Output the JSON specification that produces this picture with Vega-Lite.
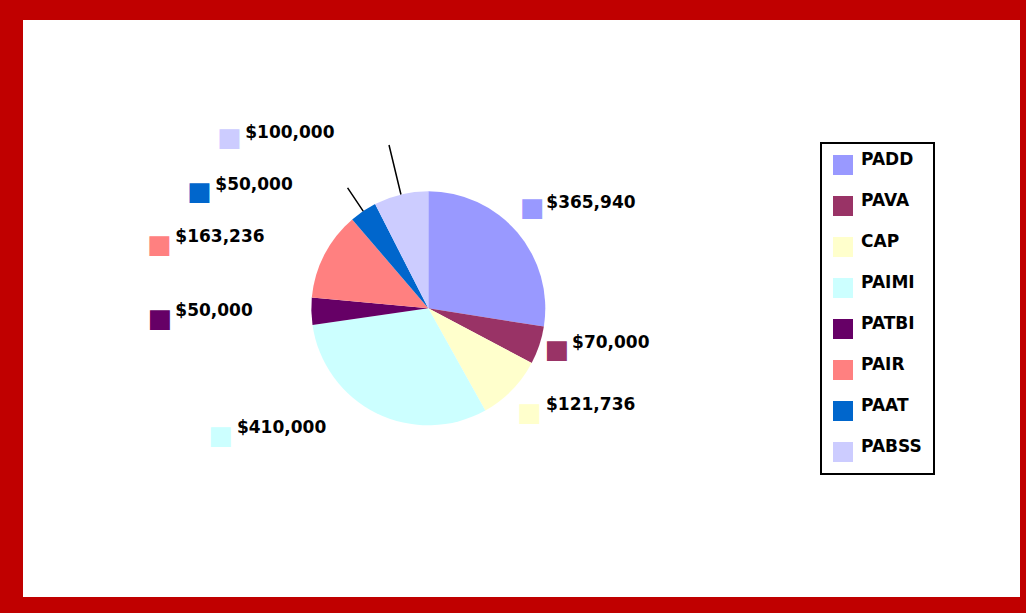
{
  "$schema": "https://vega.github.io/schema/vega-lite/v6.json",
  "width": 1026,
  "height": 613,
  "autosize": {"type": "fit", "contains": "padding"},
  "padding": {"left": 23, "top": 20, "right": 6, "bottom": 16},
  "background": "#C00000",
  "view": {"fill": "white", "stroke": null},
  "config": {
    "view": {"stroke": null, "fill": "white"},
    "legend": {"strokeWidth": 2}
  },
  "data": {
    "values": [
      {"idx": 1, "Category": "PADD", "Amount": 365940},
      {"idx": 2, "Category": "PAVA", "Amount": 70000},
      {"idx": 3, "Category": "CAP", "Amount": 121736},
      {"idx": 4, "Category": "PAIMI", "Amount": 410000},
      {"idx": 5, "Category": "PATBI", "Amount": 50000},
      {"idx": 6, "Category": "PAIR", "Amount": 163236},
      {"idx": 7, "Category": "PAAT", "Amount": 50000},
      {"idx": 8, "Category": "PABSS", "Amount": 100000}
    ]
  },
  "encoding": {
    "theta": {"field": "Amount", "type": "quantitative", "stack": true},
    "order": {"field": "idx", "type": "quantitative"}
  },
  "layer": [
    {
      "mark": {"type": "arc", "radius": 117, "x": 405.3, "y": 288.3, "stroke": null},
      "encoding": {
        "color": {
          "field": "Category",
          "type": "nominal",
          "scale": {
            "domain": ["PADD", "PAVA", "CAP", "PAIMI", "PATBI", "PAIR", "PAAT", "PABSS"],
            "range": ["#9999FF", "#993366", "#FFFFCC", "#CCFFFF", "#660066", "#FF8080", "#0066CC", "#CCCCFF"]
          },
          "legend": {
            "title": null,
            "orient": "none",
            "legendX": 798,
            "legendY": 123,
            "symbolType": "square",
            "symbolSize": 400,
            "symbolStrokeWidth": 0,
            "symbolOpacity": 1,
            "labelFont": "DejaVu Sans",
            "labelFontSize": 17,
            "labelFontWeight": "bold",
            "labelColor": "black",
            "labelBaseline": "alphabetic",
            "labelOffset": 8,
            "rowPadding": 17,
            "padding": 12,
            "strokeColor": "black",
            "fillColor": "white"
          }
        }
      }
    },
    {
      "mark": {"type": "arc", "radius": 145, "radius2": 117, "padAngle": 3, "x": 405.3, "y": 288.3, "fillOpacity": 0, "stroke": "black", "strokeWidth": 1.5},
      "encoding": {
        "strokeOpacity": {"condition": {"test": "datum.Category == 'PAAT'", "value": 1}, "value": 0}
      }
    },
    {
      "mark": {"type": "arc", "radius": 168, "radius2": 117, "padAngle": 3, "x": 405.3, "y": 288.3, "fillOpacity": 0, "stroke": "black", "strokeWidth": 1.5},
      "encoding": {
        "strokeOpacity": {"condition": {"test": "datum.Category == 'PABSS'", "value": 1}, "value": 0}
      }
    },
    {
      "mark": {
        "type": "text",
        "text": "■",
        "radius": 131,
        "x": 405.3,
        "y": 288.3,
        "font": "DejaVu Sans",
        "fontSize": 26,
        "align": "center",
        "baseline": "middle",
        "dx": {"expr": "[4.4, 4.5, 7.6, -149.5, -137.3, -152.3, -155.8, -168.1][datum.idx - 1]"},
        "dy": {"expr": "[-14.9, 0.7, 12.6, 10.1, 7.7, -3.6, -7.9, -42.6][datum.idx - 1]"}
      },
      "encoding": {
        "color": {"field": "Category", "type": "nominal", "legend": null}
      }
    },
    {
      "mark": {
        "type": "text",
        "radius": 131,
        "x": 405.3,
        "y": 288.3,
        "font": "DejaVu Sans",
        "fontSize": 17,
        "fontWeight": "bold",
        "fill": "black",
        "align": "left",
        "baseline": "middle",
        "dx": {"expr": "[18.4, 19.5, 24.1, -133.3, -122, -136.6, -140.1, -152.4][datum.idx - 1]"},
        "dy": {"expr": "[-19.9, -6.3, 5.1, 2.4, -0.8, -11.6, -14.1, -47.6][datum.idx - 1]"}
      },
      "encoding": {
        "text": {"field": "Amount", "type": "quantitative", "format": "$,.0f"}
      }
    }
  ]
}
